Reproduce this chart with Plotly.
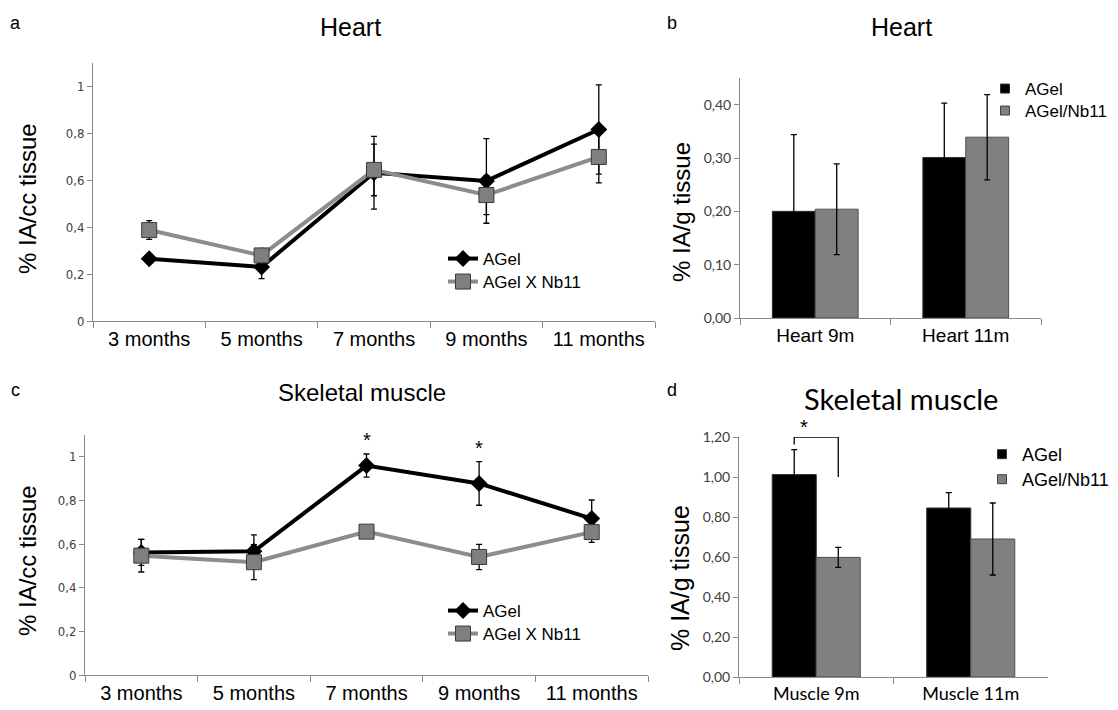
import plotly.graph_objects as go

# ---------------- data ----------------
months = ["3 months", "5 months", "7 months", "9 months", "11 months"]

heart_agel = [0.265, 0.230, 0.631, 0.596, 0.815]
heart_agel_err = [0.015, 0.050, 0.155, 0.180, 0.190]
heart_nb11 = [0.387, 0.279, 0.643, 0.536, 0.698]
heart_nb11_err = [0.040, 0.030, 0.110, 0.083, 0.110]

muscle_agel = [0.562, 0.567, 0.960, 0.878, 0.717]
muscle_agel_err = [0.060, 0.075, 0.053, 0.100, 0.085]
muscle_nb11 = [0.547, 0.517, 0.657, 0.541, 0.655]
muscle_nb11_err = [0.075, 0.080, 0.010, 0.058, 0.047]

heart_bar_cats = ["Heart 9m", "Heart 11m"]
heart_bar_agel = [0.200, 0.301]
heart_bar_agel_err = [0.144, 0.102]
heart_bar_nb11 = [0.204, 0.339]
heart_bar_nb11_err = [0.085, 0.080]

muscle_bar_cats = ["Muscle 9m", "Muscle 11m"]
muscle_bar_agel = [1.012, 0.845]
muscle_bar_agel_err = [0.125, 0.077]
muscle_bar_nb11 = [0.598, 0.690]
muscle_bar_nb11_err = [0.050, 0.180]

line_ticks = [0, 0.2, 0.4, 0.6, 0.8, 1]
line_ticktext = ["0", "0,2", "0,4", "0,6", "0,8", "1"]
heart_bar_ticks = [0, 0.1, 0.2, 0.3, 0.4]
heart_bar_ticktext = ["0,00", "0,10", "0,20", "0,30", "0,40"]
muscle_bar_ticks = [0, 0.2, 0.4, 0.6, 0.8, 1.0, 1.2]
muscle_bar_ticktext = ["0,00", "0,20", "0,40", "0,60", "0,80", "1,00", "1,20"]

star_months = ["7 months", "9 months"]
star_levels = [1.076, 1.040]

# ---------------- styling helpers ----------------
PAGE_OFF = 8                      # default body margin of the page
W, H = 1118 - PAGE_OFF, 710 - PAGE_OFF
ARIAL = "Liberation Sans, Arial, sans-serif"
NARROW = "Liberation Sans Narrow, Arial Narrow, DejaVu Sans Condensed, sans-serif"
CALIBRI = "Lato, Carlito, Calibri, Open Sans, sans-serif"
AXIS_GRAY = "#8a8a8a"
BAR_GAP = 0.43
BLACK_LINE = dict(color="black", width=4)
GRAY_LINE = dict(color="#8c8c8c", width=4)
DIAMOND = dict(symbol="diamond", size=13, color="black")
SQUARE = dict(symbol="square", size=15, color="#7f7f7f", line=dict(color="#3a3a3a", width=1))


def px_x(p):
    return (p - PAGE_OFF) / W


def px_y(p):
    return 1 - (p - PAGE_OFF) / H


fig = go.Figure()

err_style = dict(type="data", color="black", thickness=1.3, width=3)

# ---- panel a (Heart, lines) ----
fig.add_trace(go.Scatter(
    x=months, y=heart_agel, name="AGel", mode="lines+markers",
    line=BLACK_LINE, marker=DIAMOND,
    error_y=dict(array=heart_agel_err, **err_style),
    xaxis="x", yaxis="y", legend="legend"))
fig.add_trace(go.Scatter(
    x=months, y=heart_nb11, name="AGel X Nb11", mode="lines+markers",
    line=GRAY_LINE, marker=SQUARE,
    error_y=dict(array=heart_nb11_err, **err_style),
    xaxis="x", yaxis="y", legend="legend2"))

# ---- panel c (Skeletal muscle, lines) ----
fig.add_trace(go.Scatter(
    x=months, y=muscle_agel, name="AGel", mode="lines+markers",
    line=BLACK_LINE, marker=DIAMOND,
    error_y=dict(array=muscle_agel_err, **err_style),
    xaxis="x3", yaxis="y3", legend="legend3"))
fig.add_trace(go.Scatter(
    x=months, y=muscle_nb11, name="AGel X Nb11", mode="lines+markers",
    line=GRAY_LINE, marker=SQUARE,
    error_y=dict(array=muscle_nb11_err, **err_style),
    xaxis="x3", yaxis="y3", legend="legend4"))

# ---- panel b (Heart, bars) ----
bar_err = dict(type="data", color="black", thickness=1.3, width=3)
BLACK_BAR = dict(color="black", line=dict(color="#303030", width=1))
GRAY_BAR = dict(color="#808080", line=dict(color="#505050", width=1))

fig.add_trace(go.Bar(
    x=heart_bar_cats, y=heart_bar_agel, name="AGel", marker=BLACK_BAR,
    error_y=dict(array=heart_bar_agel_err, **bar_err),
    xaxis="x2", yaxis="y2", showlegend=False, offsetgroup="b1"))
fig.add_trace(go.Bar(
    x=heart_bar_cats, y=heart_bar_nb11, name="AGel/Nb11", marker=GRAY_BAR,
    error_y=dict(array=heart_bar_nb11_err, **bar_err),
    xaxis="x2", yaxis="y2", showlegend=False, offsetgroup="b2"))

# ---- panel d (Skeletal muscle, bars) ----
fig.add_trace(go.Bar(
    x=muscle_bar_cats, y=muscle_bar_agel, name="AGel", marker=BLACK_BAR,
    error_y=dict(array=muscle_bar_agel_err, **bar_err),
    xaxis="x4", yaxis="y4", showlegend=False, offsetgroup="d1"))
fig.add_trace(go.Bar(
    x=muscle_bar_cats, y=muscle_bar_nb11, name="AGel/Nb11", marker=GRAY_BAR,
    error_y=dict(array=muscle_bar_nb11_err, **bar_err),
    xaxis="x4", yaxis="y4", showlegend=False, offsetgroup="d2"))

# small square legend keys for the bar panels (Excel-style)
for name, col, edge, leg, xa, ya in [
        ("AGel", "black", "#303030", "legend5", "x2", "y2"),
        ("AGel/Nb11", "#808080", "#404040", "legend6", "x2", "y2"),
        ("AGel", "black", "#303030", "legend7", "x4", "y4"),
        ("AGel/Nb11", "#808080", "#404040", "legend8", "x4", "y4")]:
    fig.add_trace(go.Scatter(
        x=[None], y=[None], name=name, mode="markers",
        marker=dict(symbol="square", size=9, color=col, line=dict(color=edge, width=1)),
        xaxis=xa, yaxis=ya, legend=leg, hoverinfo="skip"))


def xax(domain, anchor, rng, font):
    return dict(domain=domain, anchor=anchor, type="category", range=rng,
                showline=True, linecolor=AXIS_GRAY, linewidth=1,
                ticks="outside", tickson="boundaries", ticklen=6,
                tickcolor=AXIS_GRAY, showgrid=False, zeroline=False,
                tickfont=font, fixedrange=True)


def yax(domain, anchor, rng, tv, tt, font):
    return dict(domain=domain, anchor=anchor, range=rng,
                tickvals=tv, ticktext=tt,
                showline=True, linecolor=AXIS_GRAY, linewidth=1,
                ticks="outside", ticklen=5, tickcolor=AXIS_GRAY,
                showgrid=False, zeroline=False, tickfont=font, fixedrange=True)


line_tick_font = dict(family=NARROW, size=13, color="#404040")
bar_tick_font = dict(family=CALIBRI, size=14, color="#404040")


def legend_at(xp, y_center, size):
    # single-entry legend, placed so that its text is centred on y_center
    return dict(x=px_x(xp), y=px_y(y_center - 17), xanchor="left", yanchor="top",
                font=dict(family=ARIAL, size=size, color="black"),
                bgcolor="rgba(0,0,0,0)", itemwidth=30)


fig.update_layout(
    width=W, height=H,
    margin=dict(l=0, r=0, t=0, b=0, autoexpand=False),
    paper_bgcolor="white", plot_bgcolor="white",
    barmode="group", bargap=BAR_GAP, bargroupgap=0,
    xaxis=xax([px_x(93), px_x(655)], "y", [-0.5, 4.5],
              dict(family=ARIAL, size=20, color="black")),
    yaxis=yax([px_y(321), px_y(62.5)], "x", [0, 1.1], line_ticks, line_ticktext, line_tick_font),
    xaxis2=xax([px_x(740), px_x(1041)], "y2", [-0.5, 1.5],
               dict(family=ARIAL, size=19, color="black")),
    yaxis2=yax([px_y(318), px_y(78)], "x2", [0, 0.45], heart_bar_ticks, heart_bar_ticktext, bar_tick_font),
    xaxis3=xax([px_x(85), px_x(648)], "y3", [-0.5, 4.5],
               dict(family=ARIAL, size=20, color="black")),
    yaxis3=yax([px_y(675), px_y(435)], "x3", [0, 1.1], line_ticks, line_ticktext, line_tick_font),
    xaxis4=xax([px_x(739), px_x(1048)], "y4", [-0.5, 1.5],
               dict(family=CALIBRI, size=18, color="black")),
    yaxis4=yax([px_y(677), px_y(437)], "x4", [0, 1.2], muscle_bar_ticks, muscle_bar_ticktext, bar_tick_font),
    legend=legend_at(443, 258, 17),
    legend2=legend_at(443, 281, 17),
    legend3=legend_at(443, 610, 17),
    legend4=legend_at(443, 633, 17),
    legend5=legend_at(985, 88, 17),
    legend6=legend_at(985, 110, 17),
    legend7=legend_at(982, 453, 18),
    legend8=legend_at(982, 478, 18),
)


def paper_text(text, xp, yp, size, family=ARIAL, angle=0):
    return dict(text=text, x=px_x(xp), y=px_y(yp), xref="paper", yref="paper",
                xanchor="center", yanchor="middle", showarrow=False, textangle=angle,
                font=dict(family=family, size=size, color="black"))


annotations = []
# panel letters
for letter, xp, yp in [("a", 15, 23), ("b", 672, 23), ("c", 15, 390), ("d", 672, 390)]:
    annotations.append(paper_text(letter, xp, yp, 18))
# panel titles
annotations += [
    paper_text("Heart", 350, 27, 25),
    paper_text("Heart", 901, 27, 25),
    paper_text("Skeletal muscle", 362, 392, 24),
    paper_text("Skeletal muscle", 901, 399, 29, family=CALIBRI),
]
# y axis titles
annotations += [
    paper_text("% IA/cc tissue", 27, 199, 24, angle=-90),
    paper_text("% IA/cc tissue", 27, 561, 24, angle=-90),
    paper_text("% IA/g tissue", 681, 212, 24, angle=-90),
    paper_text("% IA/g tissue", 680, 578, 25, angle=-90),
]
# significance stars in panel c
for m, lvl in zip(star_months, star_levels):
    annotations.append(dict(text="*", x=m, y=lvl, xref="x3", yref="y3", showarrow=False,
                            font=dict(family=ARIAL, size=20, color="black")))

# bracket + star in panel d (between the two bars of the first category)
half = (1 - BAR_GAP) / 4
bracket_top = 1.2
left_foot = muscle_bar_agel[0] + muscle_bar_agel_err[0] + 0.025
right_foot = muscle_bar_agel[0] - 0.012
annotations.append(dict(text="*", x=-half + 0.06, y=bracket_top - 0.001, xref="x4", yref="y4",
                        yanchor="bottom", yshift=-3,
                        showarrow=False, font=dict(family=ARIAL, size=20, color="black")))
fig.update_layout(annotations=annotations)

shape_line = dict(color="black", width=1.3)
fig.add_shape(type="line", xref="x4", yref="y4", x0=-half, x1=-half, y0=left_foot, y1=bracket_top, line=shape_line)
fig.add_shape(type="line", xref="x4", yref="y4", x0=-half, x1=half, y0=bracket_top, y1=bracket_top, line=shape_line)
fig.add_shape(type="line", xref="x4", yref="y4", x0=half, x1=half, y0=right_foot, y1=bracket_top, line=shape_line)

fig.write_html("out.html")
